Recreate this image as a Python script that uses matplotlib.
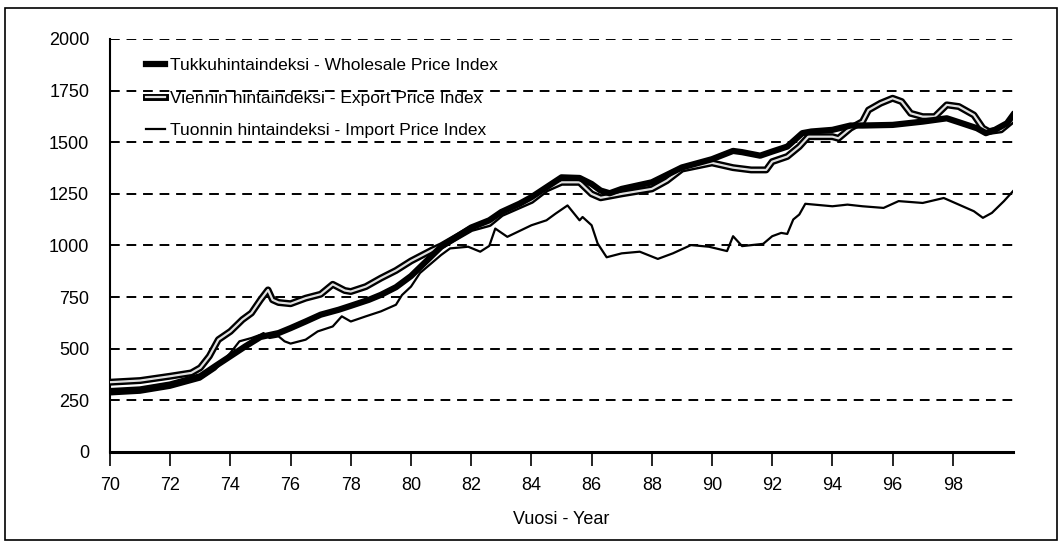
import matplotlib
matplotlib.use("Agg")
import matplotlib.pyplot as plt
import matplotlib.patheffects as pe
from matplotlib.patches import Rectangle

plt.rcParams["font.family"] = ["Liberation Sans", "DejaVu Sans"]
plt.rcParams["font.size"] = 12.5

# wholesale price index
whole_year = [70.0, 71.0, 72.0, 73.0, 73.5, 74.0, 74.5, 75.0, 75.6, 76.0, 76.5, 77.0, 77.6, 78.0,
              78.6, 79.0, 79.5, 80.0, 81.0, 82.0, 82.6, 83.0, 83.6, 84.0, 84.5, 85.0, 85.6, 86.0,
              86.3, 86.6, 87.0, 88.0, 89.0, 90.0, 90.7, 91.0, 91.6, 92.0, 92.5, 93.0, 93.3, 94.0,
              94.6, 95.0, 96.0, 97.0, 97.8, 98.2, 98.8, 99.1, 99.4, 99.8, 100.0]
whole_val = [295, 303, 327, 367, 416, 464, 512, 557, 576, 600, 632, 665, 689, 708,
             737, 761, 798, 852, 994, 1087, 1122, 1162, 1202, 1234, 1282, 1330, 1327, 1298,
             1266, 1253, 1274, 1306, 1378, 1418, 1458, 1452, 1435, 1455, 1479, 1544, 1552, 1560,
             1581, 1581, 1584, 1600, 1616, 1597, 1568, 1544, 1560, 1592, 1632]

# export price index
exp_year = [70.0, 71.0, 72.0, 72.7, 73.0, 73.3, 73.6, 74.0, 74.4, 74.7, 75.0, 75.25, 75.4, 75.6,
            76.0, 76.5, 77.0, 77.4, 77.8, 78.0, 78.5, 79.0, 79.5, 80.0, 80.7, 81.0, 82.0, 82.6,
            83.0, 84.0, 84.5, 85.0, 85.6, 86.0, 86.3, 87.0, 88.0, 88.5, 89.0, 90.0, 90.7, 91.3,
            91.8, 92.0, 92.5, 92.9, 93.2, 94.0, 94.2, 94.6, 95.0, 95.2, 95.6, 96.0, 96.3, 96.6,
            97.0, 97.4, 97.8, 98.2, 98.7, 99.0, 99.2, 99.6, 100.0]
exp_val = [338, 346, 367, 383, 408, 464, 544, 584, 641, 673, 737, 785, 737, 724,
           718, 745, 764, 812, 782, 777, 801, 842, 879, 925, 978, 998, 1082, 1106,
           1154, 1218, 1274, 1306, 1306, 1250, 1231, 1250, 1274, 1314, 1370, 1400, 1377, 1366,
           1366, 1406, 1431, 1479, 1527, 1527, 1519, 1568, 1600, 1656, 1689, 1713, 1697, 1640,
           1624, 1624, 1681, 1673, 1632, 1568, 1552, 1560, 1608]

# import price index
imp_year = [70.0, 71.0, 72.0, 73.0, 73.5, 74.0, 74.3, 74.7, 75.0, 75.1, 75.3, 75.6, 75.8, 76.0,
            76.5, 76.9, 77.4, 77.7, 78.0, 78.5, 79.0, 79.5, 79.7, 80.0, 80.3, 81.0, 81.3, 81.9,
            82.3, 82.6, 82.8, 83.2, 84.0, 84.5, 84.8, 85.2, 85.6, 85.7, 86.0, 86.2, 86.5, 87.0,
            87.6, 88.2, 88.7, 89.3, 89.9, 90.5, 90.7, 91.0, 91.7, 92.0, 92.3, 92.5, 92.7, 92.9,
            93.1, 94.0, 94.5, 95.0, 95.7, 96.2, 97.0, 97.7, 98.2, 98.7, 99.0, 99.3, 99.7, 100.0]
imp_val = [279, 287, 311, 351, 400, 480, 536, 552, 568, 576, 552, 560, 536, 525,
           544, 584, 608, 657, 632, 657, 681, 713, 760, 801, 867, 954, 986, 994,
           970, 998, 1082, 1042, 1098, 1122, 1154, 1194, 1122, 1138, 1098, 1010, 943, 962,
           970, 935, 962, 1002, 994, 973, 1045, 997, 1008, 1045, 1061, 1056, 1126, 1150,
           1202, 1190, 1198, 1190, 1182, 1215, 1206, 1230, 1198, 1166, 1134, 1158, 1215, 1263]

labels = ["Tukkuhintaindeksi - Wholesale Price Index",
          "Viennin hintaindeksi - Export Price Index",
          "Tuonnin hintaindeksi - Import Price Index"]
xticks = list(range(70, 100, 2))
yticks = list(range(0, 2001, 250))

fig = plt.figure(figsize=(10.64, 5.52), dpi=100)
ax = fig.add_axes([110 / 1064, 1 - 452 / 552, 903 / 1064, 413 / 552])

# outer frame
fig.patches.append(Rectangle((5 / 1064, 12 / 552), 1052 / 1064, 532 / 552,
                             transform=fig.transFigure, fill=False, edgecolor="black", lw=1.2))

for v in yticks[1:]:
    ax.axhline(v, color="black", lw=1.4, ls=(0, (5, 3.5)), zorder=1)

l3, = ax.plot(imp_year, imp_val, color="black", lw=1.6, zorder=3)
l2, = ax.plot(exp_year, exp_val, color="#e0e0e0", lw=1.6, zorder=4,
              path_effects=[pe.Stroke(linewidth=5.0, foreground="black"), pe.Normal()])
l1, = ax.plot(whole_year, whole_val, color="black", lw=4.5, zorder=5)

ax.set_xlim(70, 100)
ax.set_ylim(0, 2000)
ax.set_xticks(xticks)
ax.set_yticks(yticks)
ax.tick_params(axis="x", direction="out", length=10, width=1.2, pad=8, labelsize=13)
ax.tick_params(axis="y", length=0, pad=15, labelsize=13)
for s in ["top", "right"]:
    ax.spines[s].set_visible(False)
ax.spines["left"].set_linewidth(1.5)
ax.spines["bottom"].set_linewidth(2.2)

ax.legend([l1, l2, l3], labels, loc="upper left", bbox_to_anchor=(0.04, 0.955),
          frameon=False, borderpad=0, borderaxespad=0, handlelength=1.1,
          handletextpad=0.3, labelspacing=1.02, fontsize=12.5)

fig.text(561 / 1064, 1 - 519 / 552, "Vuosi - Year", ha="center", va="center", fontsize=13)

fig.savefig("out.png", dpi=100)
